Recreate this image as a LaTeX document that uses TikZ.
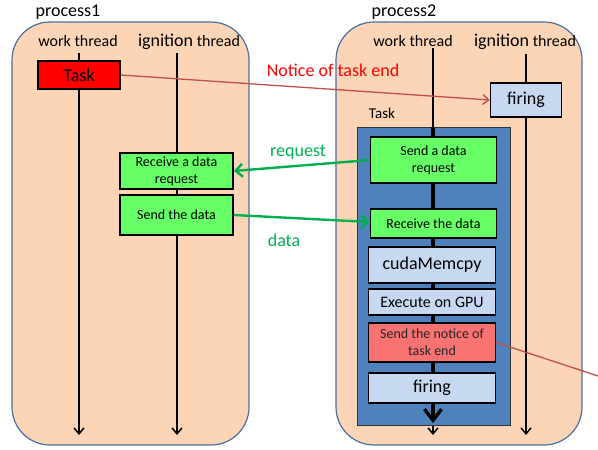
\documentclass[tikz,border=0pt]{standalone}
\usepackage{fontspec}
\setmainfont{Carlito}
\usetikzlibrary{arrows.meta}

\definecolor{peach}{HTML}{FBD5B5}
\definecolor{procedge}{HTML}{4A6FA0}
\definecolor{taskblue}{HTML}{4F81BD}
\definecolor{lightgreen}{HTML}{66FF66}
\definecolor{paleblue}{HTML}{C6D9F1}
\definecolor{noticered}{HTML}{C0504D}
\definecolor{notebox}{HTML}{F87272}
\definecolor{msggreen}{HTML}{00B050}

\tikzset{
  procbox/.style={draw=procedge, line width=1.2pt, fill=peach, rounded corners=38pt},
  proclabel/.style={font=\fontsize{18}{20}\selectfont, inner sep=0pt},
  thr/.style={font=\fontsize{16}{18}\selectfont, inner sep=0pt},
  threadline/.style={draw=black, line width=1.5pt, -{Straight Barb[length=6pt,width=10pt,line width=1.5pt]}},
  stepbox/.style={draw=black, line width=1.6pt, inner sep=0pt, align=center},
  greenbox/.style={stepbox, fill=lightgreen, font=\fontsize{14}{17}\selectfont},
  bluebox/.style={stepbox, fill=paleblue},
  msg/.style={draw=msggreen, line width=2.4pt, -{Straight Barb[length=7pt,width=13pt,line width=2.4pt]}},
  notice/.style={draw=noticered, line width=1.3pt},
  msglabel/.style={text=msggreen, font=\fontsize{18}{20}\selectfont, inner sep=0pt},
}

\begin{document}
\begin{tikzpicture}[x=1pt, y=-1pt]
\useasboundingbox (0,0) rectangle (598,450);

% process frames
\draw[procbox] (12,22) rectangle (249,445);
\draw[procbox] (336,22) rectangle (582,445);

\node[proclabel] (p1) at (68,12) {process1};
\node[proclabel] (p2) at (404,12) {process2};

% thread headings
\node[thr] (wt1) at (78,41) {work thread};
\node[thr, anchor=base] (it1) at (189,46) {{\fontsize{18}{20}\selectfont ignition} thread};
\node[thr] (wt2) at (413,41) {work thread};
\node[thr, anchor=base] (it2) at (525,46) {{\fontsize{18}{20}\selectfont ignition} thread};

% thread end points
\coordinate (w1s) at (79,53);   \coordinate (w1e) at (79,435);
\coordinate (i1s) at (177,53);  \coordinate (i1e) at (177,435);
\coordinate (w2s) at (433,48);  \coordinate (w2e) at (433,435);
\coordinate (i2s) at (526,54);  \coordinate (i2e) at (526,435);

\draw[threadline] (w1s) -- (w1e);
\draw[threadline] (i1s) -- (i1e);
\draw[threadline, line width=1.8pt] (i2s) -- (i2e);
\draw[threadline, line width=1.1pt] (w2s) -- (w2e);

% task container of process2
\node[font=\fontsize{15}{17}\selectfont, inner sep=0pt] (tasklbl) at (382,113) {Task};
\node[draw=black!80, line width=0.8pt, fill=taskblue, minimum width=153pt, minimum height=298pt, inner sep=0pt] (cont) at (433.5,276) {};
\coordinate (ct) at (433,127);
\coordinate (cb) at (433,423);
\draw[line width=3.4pt, -{Straight Barb[length=11pt,width=17pt,line width=3.4pt]}] (ct) -- (cb);

% process1 steps
\node[stepbox, fill=red, minimum width=82pt, minimum height=28pt, font=\fontsize{18}{20}\selectfont] (task1) at (79,75) {Task};
\node[greenbox, minimum width=113pt, minimum height=36pt] (recvreq) at (176.5,171) {Receive a data\\request};
\node[greenbox, minimum width=113pt, minimum height=40pt] (senddata) at (176.5,215) {Send the data};

% process2 steps
\node[bluebox, minimum width=71pt, minimum height=34pt, font=\fontsize{18}{20}\selectfont] (fire1) at (526,100) {firing};
\node[greenbox, minimum width=126pt, minimum height=46pt] (sendreq) at (433.5,160) {Send a data\\request};
\node[greenbox, minimum width=126pt, minimum height=29pt] (recvdata) at (433.5,223.5) {Receive the data};
\node[bluebox, minimum width=127pt, minimum height=36pt, font=\fontsize{18}{20}\selectfont] (memcpy) at (432,265) {cudaMemcpy};
\node[bluebox, minimum width=127pt, minimum height=26pt, font=\fontsize{16}{18}\selectfont] (exec) at (432,302) {Execute on GPU};
\node[stepbox, fill=notebox, minimum width=127pt, minimum height=39pt, font=\fontsize{14}{17}\selectfont, text=black!85] (sendnote) at (432,342.5) {Send the notice of\\task end};
\node[bluebox, minimum width=127pt, minimum height=30pt, font=\fontsize{18}{20}\selectfont] (fire2) at (432,388) {firing};

% messages between the processes
\draw[notice, -{Straight Barb[length=6pt,width=10pt,line width=1.3pt]}] (task1.east) -- (fire1.west);
\node[text=red, font=\fontsize{18}{20}\selectfont, inner sep=0pt] (notelbl) at (333,70) {Notice of task end};

\draw[msg] (sendreq.west) -- (recvreq.east);
\node[msglabel] (reqlbl) at (298,152) {request};

\draw[msg] (senddata.east) -- ([yshift=1.5pt]recvdata.west);
\node[msglabel] (datalbl) at (284,240) {data};

\coordinate (noteout) at (598,376);
\draw[notice] (sendnote.east) -- (noteout);
\end{tikzpicture}
\end{document}
